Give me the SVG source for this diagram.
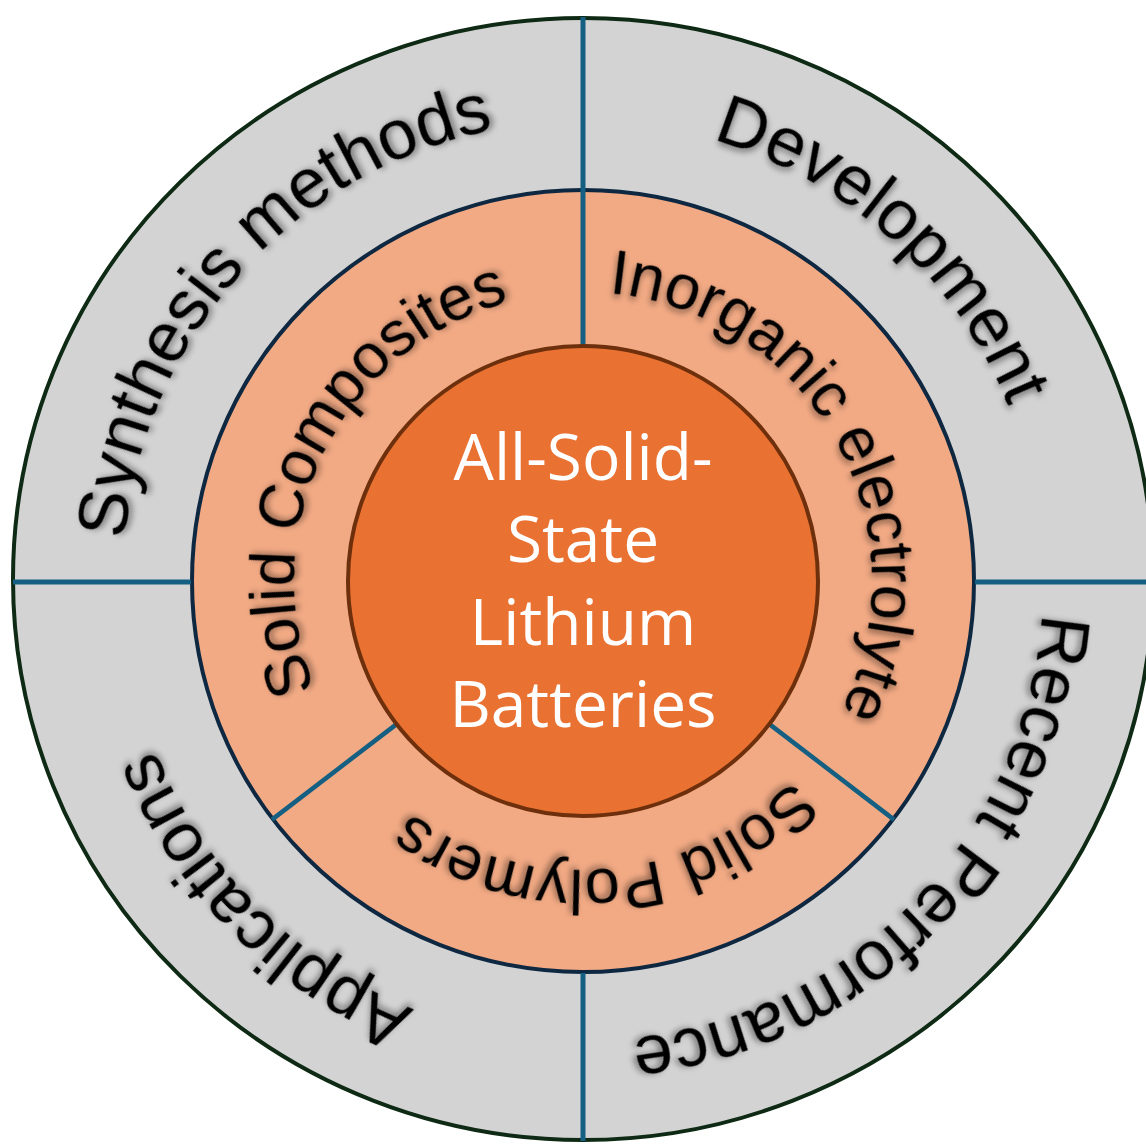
<svg xmlns="http://www.w3.org/2000/svg" width="1146" height="1144" viewBox="0 0 1146 1144">
  <defs>
    <style>
      .ring-outer { fill: #d3d3d3; stroke: #0e2a14; stroke-width: 4; }
      .ring-mid { fill: #f2aa84; stroke: #0e2841; stroke-width: 4; }
      .core { fill: #e97132; stroke: #6e300c; stroke-width: 4; }
      .divider { stroke: #156082; stroke-width: 5; stroke-linecap: butt; }
      .divider-thin { stroke: #156082; stroke-width: 4.5; }
      .label-outer { font-family: "Liberation Sans", Arial, sans-serif; font-size: 70px; fill: #000; }
      .label-mid { font-family: "Liberation Sans", Arial, sans-serif; font-size: 63px; fill: #000; }
      .title { font-family: "Open Sans", "Noto Sans", sans-serif; font-size: 64px; fill: #fff; text-anchor: middle; }
    </style>
    <!-- clockwise circles starting at the left point; 50% lies at the right point -->
    <path id="arcOuter" d="M 123 581 A 460 460 0 1 1 1043 581 A 460 460 0 1 1 123 581"/>
    <path id="arcMid" d="M 294 581 A 289 289 0 1 1 872 581 A 289 289 0 1 1 294 581"/>
    <filter id="soft" x="-20%" y="-20%" width="140%" height="140%">
      <feDropShadow dx="-2.5" dy="2.5" stdDeviation="3" flood-color="#000" flood-opacity="0.45"/>
    </filter>
  </defs>

  <!-- rings -->
  <g id="outer-ring">
    <ellipse class="ring-outer" cx="583" cy="579" rx="570" ry="561"/>
  </g>
  <g id="middle-ring">
    <circle class="ring-mid" cx="583" cy="581" r="391"/>
  </g>

  <!-- sector dividers -->
  <g id="connectors">
    <line class="divider" x1="583" y1="17" x2="583" y2="347"/>
    <line class="divider" x1="583" y1="973" x2="583" y2="1141"/>
    <line class="divider" x1="13" y1="582" x2="191" y2="582"/>
    <line class="divider" x1="975" y1="582" x2="1146" y2="582"/>
    <line class="divider-thin" x1="396.6" y1="724.1" x2="272" y2="819.6"/>
    <line class="divider-thin" x1="769.4" y1="724.1" x2="894" y2="819.6"/>
  </g>

  <g id="core">
    <circle class="core" cx="583" cy="581" r="235"/>
    <text class="title" x="583" y="480">All-Solid-</text>
    <text class="title" x="583" y="562">State</text>
    <text class="title" x="583" y="645">Lithium</text>
    <text class="title" x="583" y="727">Batteries</text>
  </g>

  <!-- outer ring labels -->
  <g id="synthesis-methods">
    <text class="label-outer" filter="url(#soft)" transform="rotate(222 583 581)"><textPath href="#arcOuter" startOffset="50%" text-anchor="middle">Synthesis methods</textPath></text>
  </g>
  <g id="development">
    <text class="label-outer" filter="url(#soft)" transform="rotate(312 583 581)"><textPath href="#arcOuter" startOffset="50%" text-anchor="middle">Development</textPath></text>
  </g>
  <g id="recent-performance">
    <text class="label-outer" filter="url(#soft)" transform="rotate(44 583 581)"><textPath href="#arcOuter" startOffset="50%" text-anchor="middle">Recent Performance</textPath></text>
  </g>
  <g id="applications">
    <text class="label-outer" filter="url(#soft)" transform="rotate(135 583 581)"><textPath href="#arcOuter" startOffset="50%" text-anchor="middle">Applications</textPath></text>
  </g>

  <!-- middle ring labels -->
  <g id="solid-composites">
    <text class="label-mid" filter="url(#soft)" transform="rotate(206.6 583 581)"><textPath href="#arcMid" startOffset="50%" text-anchor="middle">Solid Composites</textPath></text>
  </g>
  <g id="inorganic-electrolyte">
    <text class="label-mid" filter="url(#soft)" transform="rotate(331 583 581)"><textPath href="#arcMid" startOffset="50%" text-anchor="middle">Inorganic electrolyte</textPath></text>
  </g>
  <g id="solid-polymers">
    <text class="label-mid" filter="url(#soft)" transform="rotate(85 583 581)"><textPath href="#arcMid" startOffset="50%" text-anchor="middle">Solid Polymers</textPath></text>
  </g>
</svg>
